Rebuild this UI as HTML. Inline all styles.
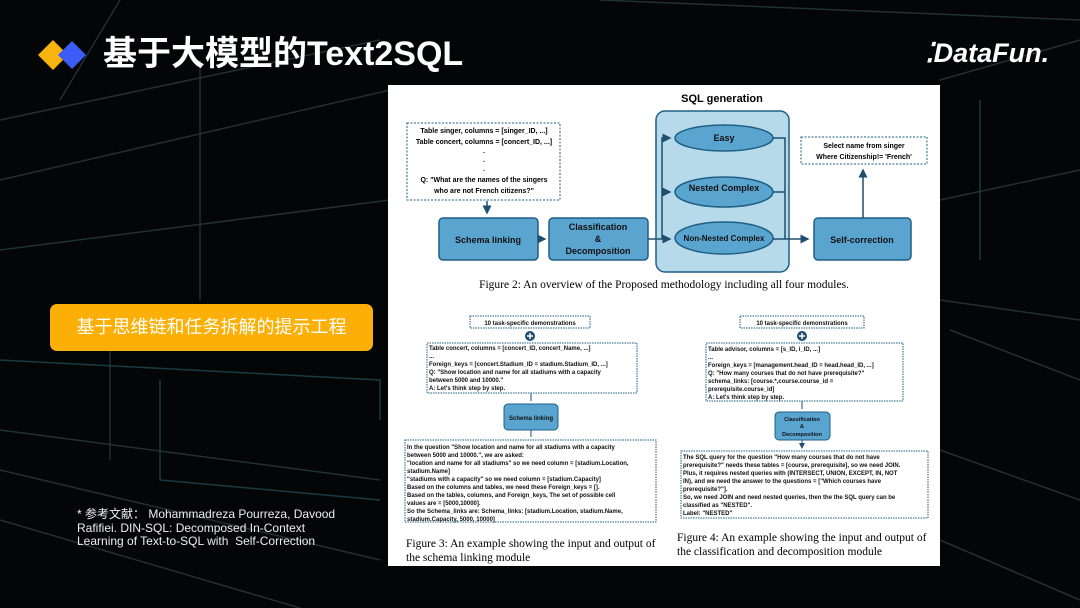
<!DOCTYPE html>
<html><head><meta charset="utf-8"><style>
body{margin:0;width:1080px;height:608px;overflow:hidden;background:#040506;font-family:"Liberation Sans","Noto Sans CJK SC",sans-serif;position:relative}
.abs{position:absolute}
</style></head><body>
<svg class="abs" style="left:0;top:0" width="1080" height="608">
<g stroke="#2a3a40" stroke-width="1.5" fill="none" opacity="0.8">
<path d="M0 120 L380 40 M0 180 L390 90 M0 250 L390 200 M0 430 L380 480 M0 470 L380 560 M0 520 L300 608 M120 0 L60 100 M940 80 L1080 40 M940 200 L1080 170 M940 300 L1080 320 M940 450 L1080 500 M940 540 L1080 600 M600 0 L1080 20 M200 60 L200 300 M110 330 L110 460 M950 330 L1080 380"/>
<path d="M0 360 L380 380 L380 420 M160 380 L160 480 L380 500 M980 100 L980 260" stroke="#1e4a52"/>
</g>
<path d="M38 55 L53 40 L68 55 L53 70Z" fill="#f6b40e"/>
<path d="M58 55 L72 41 L86 55 L72 69Z" fill="#3b5cf5"/>
</svg>
<div class="abs" style="left:103px;top:34px;color:#fff;font-size:34px;font-weight:bold;line-height:40px">基于大模型的Text2SQL</div>
<div class="abs" style="left:925px;top:38px;color:#fff;font-size:27px;font-weight:bold;font-style:italic">⁚<span>DataFun.</span></div>
<div class="abs" style="left:50px;top:304px;width:323px;height:47px;background:#fcaf06;border-radius:7px;color:#fff;font-size:18px;text-align:center;line-height:47px">基于思维链和任务拆解的提示工程</div>
<div class="abs" style="left:77px;top:508px;color:#eee;font-size:12px;line-height:13.5px">* 参考文献： Mohammadreza Pourreza, Davood<br>Rafifiei. DIN-SQL: Decomposed In-Context<br>Learning of Text-to-SQL with&nbsp; Self-Correction</div>

<svg class="abs" style="left:0;top:0" width="1080" height="608" font-family="Liberation Sans, sans-serif">
<defs><marker id="a" markerWidth="6" markerHeight="6" refX="5" refY="3" orient="auto"><path d="M0 0L6 3L0 6Z" fill="#1f4e6e"/></marker></defs>
<rect x="388" y="85" width="552" height="481" fill="#fff"/>
<text x="722" y="102" font-size="11" font-weight="bold" text-anchor="middle">SQL generation</text>
<rect x="656" y="111" width="133" height="161" rx="9" fill="#b6daea" stroke="#1f5f85" stroke-width="1.5"/>
<g fill="#5aa5d0" stroke="#1f5f85" stroke-width="1.5">
<ellipse cx="724" cy="138" rx="49" ry="13"/><ellipse cx="724" cy="192" rx="49" ry="15"/><ellipse cx="724" cy="238" rx="49" ry="16"/>
<rect x="439" y="218" width="99" height="42" rx="4"/><rect x="549" y="218" width="99" height="42" rx="4"/><rect x="814" y="218" width="97" height="42" rx="4"/>
</g>
<g font-size="9" font-weight="bold" text-anchor="middle" fill="#111">
<text x="724" y="141">Easy</text><text x="724" y="191">Nested Complex</text><text x="724" y="241" font-size="8">Non-Nested Complex</text>
<text x="488" y="243">Schema linking</text><text x="598" y="230">Classification</text><text x="598" y="242">&amp;</text><text x="598" y="254">Decomposition</text><text x="862" y="243">Self-correction</text>
</g>
<rect x="407" y="123" width="153" height="77" fill="none" stroke="#1f5f85" stroke-dasharray="2 1.5"/>
<g font-size="7" font-weight="bold" text-anchor="middle"><text x="484" y="133">Table singer, columns = [singer_ID, ...]</text><text x="484" y="144">Table concert, columns = [concert_ID, ...]</text><text x="484" y="153">.</text><text x="484" y="162">.</text><text x="484" y="171">.</text><text x="484" y="182">Q: "What are the names of the singers</text><text x="484" y="193">who are not French citizens?"</text>
<text x="864" y="148">Select name from singer</text><text x="864" y="159">Where Citizenship!= 'French'</text></g>
<rect x="801" y="137" width="126" height="27" fill="none" stroke="#1f5f85" stroke-dasharray="2 1.5"/>
<g stroke="#1f4e6e" stroke-width="1.5" fill="none">
<path d="M487 201V213" marker-end="url(#a)"/><path d="M538 239H545" marker-end="url(#a)"/>
<path d="M648 239H670" marker-end="url(#a)"/><path d="M662 239V138H670" marker-end="url(#a)"/><path d="M662 192H670" marker-end="url(#a)"/>
<path d="M773 138H785V239 M773 192H785 M773 239H808" marker-end="url(#a)"/><path d="M863 218V170" marker-end="url(#a)"/>
</g>
<text x="664" y="288" font-family="Liberation Serif, serif" font-size="11.5" text-anchor="middle">Figure 2: An overview of the Proposed methodology including all four modules.</text>

<g fill="none" stroke="#1f5f85" stroke-dasharray="1.5 1">
<rect x="470" y="316" width="120" height="12"/><rect x="427" y="343" width="210" height="50"/><rect x="405" y="440" width="251" height="82"/>
<rect x="740" y="316" width="124" height="12"/><rect x="706" y="343" width="197" height="58"/><rect x="681" y="451" width="247" height="67"/>
</g>
<circle cx="530" cy="336" r="5" fill="#1f4e6e"/><circle cx="802" cy="336" r="5" fill="#1f4e6e"/>
<path d="M527 336h6M530 333v6M799 336h6M802 333v6" stroke="#fff" stroke-width="1.5"/>
<rect x="504" y="404" width="54" height="26" rx="4" fill="#5aa5d0" stroke="#1f5f85"/>
<rect x="775" y="412" width="55" height="28" rx="4" fill="#5aa5d0" stroke="#1f5f85"/>
<g stroke="#1f4e6e" fill="none"><path d="M531 393V401M531 430V437M802 401V409M802 440V448" marker-end="url(#a)"/></g>
<g font-size="6" font-weight="bold" fill="#111">
<text x="530" y="325" text-anchor="middle">10 task-specific demonstrations</text>
<text x="802" y="325" text-anchor="middle">10 task-specific demonstrations</text>
<text x="531" y="420" text-anchor="middle">Schema linking</text>
<text x="802" y="421" text-anchor="middle" font-size="5.5">Classification</text><text x="802" y="428" text-anchor="middle" font-size="5.5">&amp;</text><text x="802" y="436" text-anchor="middle" font-size="5.5">Decomposition</text>
<text x="429" y="350">Table concert, columns = [concert_ID, concert_Name, ...]</text><text x="429" y="358">...</text><text x="429" y="366">Foreign_keys = [concert.Stadium_ID = stadium.Stadium_ID, ...]</text><text x="429" y="374">Q: "Show location and name for all stadiums with a capacity</text><text x="429" y="382">between 5000 and 10000."</text><text x="429" y="390">A: Let's think step by step.</text>
<text x="407" y="449">In the question "Show location and name for all stadiums with a capacity</text><text x="407" y="457">between 5000 and 10000.", we are asked:</text><text x="407" y="465">"location and name for all stadiums" so we need column = [stadium.Location,</text><text x="407" y="473">stadium.Name]</text><text x="407" y="481">"stadiums with a capacity" so we need column = [stadium.Capacity]</text><text x="407" y="489">Based on the columns and tables, we need these Foreign_keys = [].</text><text x="407" y="497">Based on the tables, columns, and Foreign_keys, The set of possible cell</text><text x="407" y="505">values are = [5000,10000].</text><text x="407" y="513">So the Schema_links are: Schema_links: [stadium.Location, stadium.Name,</text><text x="407" y="521">stadium.Capacity, 5000, 10000]</text>
<text x="708" y="351">Table advisor, columns = [s_ID, i_ID, ...]</text><text x="708" y="359">...</text><text x="708" y="367">Foreign_keys = [management.head_ID = head.head_ID, ...]</text><text x="708" y="375">Q: "How many courses that do not have prerequisite?"</text><text x="708" y="383">schema_links: [course.*,course.course_id =</text><text x="708" y="391">prerequisite.course_id]</text><text x="708" y="399">A: Let's think step by step.</text>
<text x="683" y="459">The SQL query for the question "How many courses that do not have</text><text x="683" y="467">prerequisite?" needs these tables = [course, prerequisite], so we need JOIN.</text><text x="683" y="475">Plus, it requires nested queries with (INTERSECT, UNION, EXCEPT, IN, NOT</text><text x="683" y="483">IN), and we need the answer to the questions = ["Which courses have</text><text x="683" y="491">prerequisite?"].</text><text x="683" y="499">So, we need JOIN and need nested queries, then the the SQL query can be</text><text x="683" y="507">classified as "NESTED".</text><text x="683" y="515">Label: "NESTED"</text>
</g>
<g font-family="Liberation Serif, serif" font-size="11.5"><text x="406" y="547">Figure 3: An example showing the input and output of</text><text x="406" y="561">the schema linking module</text>
<text x="677" y="541">Figure 4: An example showing the input and output of</text><text x="677" y="555">the classification and decomposition module</text></g>
</svg>
</body></html>
